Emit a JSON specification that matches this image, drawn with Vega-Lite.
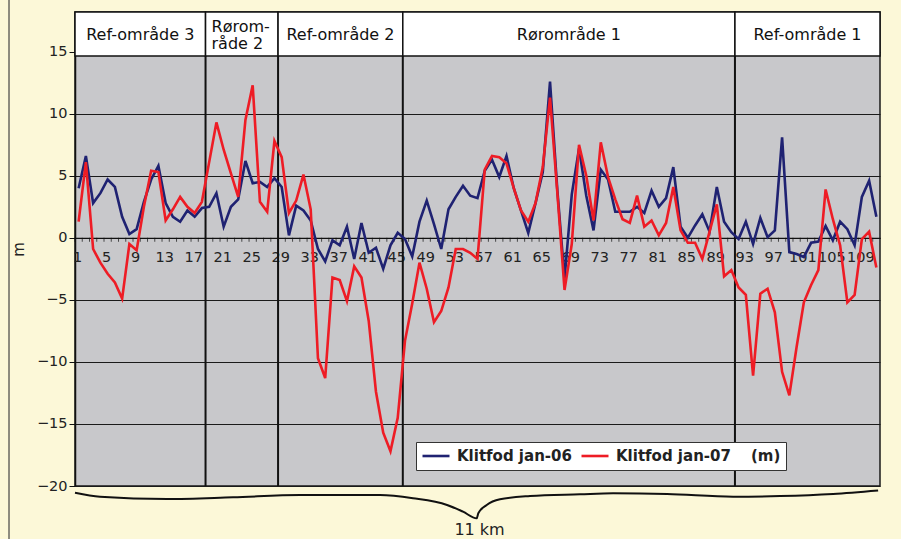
{
  "$schema": "https://vega.github.io/schema/vega-lite/v6.json",
  "autosize": "none",
  "width": 805,
  "height": 474,
  "padding": {"left": 75, "top": 12, "right": 21, "bottom": 53},
  "background": "#fcf8d8",
  "config": {
    "font": "DejaVu Sans",
    "view": {"fill": "#c8c8cb", "stroke": "#1a1a1a", "strokeWidth": 1.5},
    "axis": {"labelFont": "DejaVu Sans", "labelColor": "#222", "tickColor": "#111", "domainColor": "#111"}
  },
  "datasets": {
    "regions": [
      {"name": "Ref-område 3", "x0": 0.5, "x1": 18.5},
      {"name": "Rørom-\nråde 2", "x0": 18.5, "x1": 28.5},
      {"name": "Ref-område 2", "x0": 28.5, "x1": 45.7},
      {"name": "Rørområde 1", "x0": 45.7, "x1": 91.5},
      {"name": "Ref-område 1", "x0": 91.5, "x1": 111.5}
    ],
    "brace": [
      {"bx": 0.5, "by": -20.54}, {"bx": 3.95, "by": -20.86}, {"bx": 13.19, "by": -21.05},
      {"bx": 22.29, "by": -20.91}, {"bx": 31.53, "by": -20.73}, {"bx": 42.56, "by": -20.73},
      {"bx": 47.11, "by": -20.99}, {"bx": 51.8, "by": -21.53}, {"bx": 54.0, "by": -22.07},
      {"bx": 55.89, "by": -22.6}, {"bx": 56.11, "by": -22.2}, {"bx": 57.27, "by": -21.53},
      {"bx": 59.1, "by": -21.07}, {"bx": 63.24, "by": -20.81}, {"bx": 70.13, "by": -20.67},
      {"bx": 74.69, "by": -20.59}, {"bx": 82.13, "by": -20.64}, {"bx": 91.24, "by": -20.86},
      {"bx": 97.72, "by": -20.81}, {"bx": 105.03, "by": -20.64}, {"bx": 111.24, "by": -20.36}
    ],
    "series": [
      {"i":1,"a":4.0,"b":1.3},{"i":2,"a":6.6,"b":6.1},{"i":3,"a":2.8,"b":-0.9},{"i":4,"a":3.6,"b":-2.0},
      {"i":5,"a":4.7,"b":-2.9},{"i":6,"a":4.1,"b":-3.6},{"i":7,"a":1.7,"b":-4.9},{"i":8,"a":0.3,"b":-0.5},
      {"i":9,"a":0.7,"b":-1.0},{"i":10,"a":2.9,"b":2.5},{"i":11,"a":4.7,"b":5.4},{"i":12,"a":5.8,"b":5.3},
      {"i":13,"a":2.8,"b":1.4},{"i":14,"a":1.7,"b":2.3},{"i":15,"a":1.3,"b":3.3},{"i":16,"a":2.2,"b":2.5},
      {"i":17,"a":1.7,"b":2.0},{"i":18,"a":2.4,"b":2.9},{"i":19,"a":2.5,"b":6.1},{"i":20,"a":3.6,"b":9.3},
      {"i":21,"a":0.9,"b":7.1},{"i":22,"a":2.5,"b":5.2},{"i":23,"a":3.1,"b":3.3},{"i":24,"a":6.2,"b":9.5},
      {"i":25,"a":4.4,"b":12.3},{"i":26,"a":4.5,"b":2.9},{"i":27,"a":4.1,"b":2.1},{"i":28,"a":4.8,"b":7.8},
      {"i":29,"a":4.1,"b":6.5},{"i":30,"a":0.2,"b":2.0},{"i":31,"a":2.6,"b":3.0},{"i":32,"a":2.2,"b":5.1},
      {"i":33,"a":1.4,"b":2.3},{"i":34,"a":-0.9,"b":-9.7},{"i":35,"a":-1.9,"b":-11.3},{"i":36,"a":-0.2,"b":-3.2},
      {"i":37,"a":-0.6,"b":-3.4},{"i":38,"a":0.9,"b":-5.1},{"i":39,"a":-1.7,"b":-2.3},{"i":40,"a":1.2,"b":-3.2},
      {"i":41,"a":-1.2,"b":-6.7},{"i":42,"a":-0.8,"b":-12.4},{"i":43,"a":-2.5,"b":-15.7},{"i":44,"a":-0.6,"b":-17.2},
      {"i":45,"a":0.4,"b":-14.5},{"i":46,"a":-0.1,"b":-8.3},{"i":47,"a":-1.5,"b":-5.3},{"i":48,"a":1.3,"b":-2.0},
      {"i":49,"a":3.0,"b":-4.1},{"i":50,"a":1.1,"b":-6.8},{"i":51,"a":-0.9,"b":-5.9},{"i":52,"a":2.3,"b":-4.0},
      {"i":53,"a":3.3,"b":-0.9},{"i":54,"a":4.2,"b":-0.9},{"i":55,"a":3.4,"b":-1.2},{"i":56,"a":3.2,"b":-1.7},
      {"i":57,"a":5.4,"b":5.5},{"i":58,"a":6.3,"b":6.6},{"i":59,"a":4.9,"b":6.5},{"i":60,"a":6.6,"b":6.0},
      {"i":61,"a":4.0,"b":4.0},{"i":62,"a":2.2,"b":2.2},{"i":63,"a":0.4,"b":1.3},{"i":64,"a":2.8,"b":2.8},
      {"i":65,"a":5.3,"b":5.7},{"i":66,"a":12.6,"b":11.3},{"i":67,"a":3.9,"b":3.7},{"i":68,"a":-3.3,"b":-4.2},
      {"i":69,"a":3.5,"b":-0.5},{"i":70,"a":7.2,"b":7.5},{"i":71,"a":3.4,"b":5.0},{"i":72,"a":0.6,"b":1.4},
      {"i":73,"a":5.5,"b":7.7},{"i":74,"a":4.7,"b":4.9},{"i":75,"a":2.1,"b":3.1},{"i":76,"a":2.1,"b":1.5},
      {"i":77,"a":2.1,"b":1.2},{"i":78,"a":2.5,"b":3.4},{"i":79,"a":2.0,"b":0.9},{"i":80,"a":3.8,"b":1.4},
      {"i":81,"a":2.5,"b":0.2},{"i":82,"a":3.2,"b":1.2},{"i":83,"a":5.7,"b":4.1},{"i":84,"a":0.9,"b":0.6},
      {"i":85,"a":0.0,"b":-0.4},{"i":86,"a":1.0,"b":-0.4},{"i":87,"a":1.9,"b":-1.7},{"i":88,"a":0.5,"b":0.5},
      {"i":89,"a":4.1,"b":2.7},{"i":90,"a":1.3,"b":-3.1},{"i":91,"a":0.45,"b":-2.6},{"i":92,"a":-0.1,"b":-4.0},
      {"i":93,"a":1.3,"b":-4.6},{"i":94,"a":-0.5,"b":-11.1},{"i":95,"a":1.6,"b":-4.5},{"i":96,"a":0.05,"b":-4.1},
      {"i":97,"a":0.6,"b":-6.0},{"i":98,"a":8.1,"b":-10.8},{"i":99,"a":-1.15,"b":-12.7},{"i":100,"a":-1.3,"b":-8.8},
      {"i":101,"a":-1.55,"b":-5.2},{"i":102,"a":-0.4,"b":-3.8},{"i":103,"a":-0.3,"b":-2.6},{"i":104,"a":0.95,"b":3.9},
      {"i":105,"a":-0.2,"b":1.5},{"i":106,"a":1.3,"b":-0.6},{"i":107,"a":0.7,"b":-5.2},{"i":108,"a":-0.6,"b":-4.6},
      {"i":109,"a":3.3,"b":-0.1},{"i":110,"a":4.6,"b":0.5},{"i":111,"a":1.7,"b":-2.4}
    ]
  },
  "layer": [
    {
      "data": {"name": "series"},
      "mark": {"type": "tick", "orient": "vertical", "size": 4, "thickness": 1, "color": "#111", "yOffset": 2, "xOffset": -3.626},
      "encoding": {
        "x": {"field": "i", "type": "quantitative", "scale": {"domain": [0.5, 111.5], "nice": false, "zero": false}},
        "y": {"datum": 0, "type": "quantitative", "scale": {"domain": [-20, 18.2], "nice": false, "zero": false}}
      }
    },
    {
      "data": {"name": "series"},
      "transform": [{"filter": "(datum.i - 1) % 4 == 0"}],
      "mark": {"type": "text", "font": "DejaVu Sans", "fontSize": 14.5, "color": "#222", "align": "center", "baseline": "middle", "dy": 20, "dx": -1},
      "encoding": {
        "x": {"field": "i", "type": "quantitative", "scale": {"domain": [0.5, 111.5], "nice": false, "zero": false}},
        "y": {"datum": 0, "type": "quantitative", "scale": {"domain": [-20, 18.2], "nice": false, "zero": false}},
        "text": {"field": "i", "type": "quantitative"}
      }
    },
    {
      "data": {"values": [{"edge": "left"}]},
      "mark": {"type": "rule", "color": "#444", "strokeWidth": 1.2},
      "encoding": {
        "x": {"datum": -8.6, "type": "quantitative", "scale": {"domain": [0.5, 111.5], "nice": false, "zero": false}},
        "y": {"datum": 19.2, "type": "quantitative", "scale": {"domain": [-20, 18.2], "nice": false, "zero": false}},
        "y2": {"datum": -24.3}
      }
    },
    {
      "data": {"name": "regions"},
      "transform": [{"filter": "datum.x0 > 0.6"}],
      "mark": {"type": "rule", "color": "#111", "strokeWidth": 2},
      "encoding": {
        "x": {"field": "x0", "type": "quantitative", "scale": {"domain": [0.5, 111.5], "nice": false, "zero": false}},
        "y": {"datum": -20, "type": "quantitative", "scale": {"domain": [-20, 18.2], "nice": false, "zero": false}},
        "y2": {"datum": 18.2}
      }
    },
    {
      "data": {"name": "series"},
      "transform": [{"fold": ["a", "b"], "as": ["k", "v"]}],
      "mark": {"type": "line", "strokeWidth": 2.6, "strokeJoin": "miter"},
      "encoding": {
        "x": {"field": "i", "type": "quantitative",
          "scale": {"domain": [0.5, 111.5], "nice": false, "zero": false},
          "axis": {
            "orient": "bottom", "offset": -248.1, "title": null, "grid": false,
            "labels": false, "ticks": false, "domain": true, "domainWidth": 1.2
          }
        },
        "y": {"field": "v", "type": "quantitative",
          "scale": {"domain": [-20, 18.2], "nice": false, "zero": false},
          "axis": {
            "values": [-20, -15, -10, -5, 0, 5, 10, 15],
            "grid": true, "gridColor": "#1a1a1a", "gridWidth": 1.2, "gridOpacity": 1,
            "tickSize": 6, "labelPadding": 2, "labelFontSize": 14.5,
            "domain": true, "domainWidth": 1.5,
            "title": "m", "titleFont": "DejaVu Sans", "titleFontWeight": "normal", "titleFontSize": 15, "titleColor": "#222", "titlePadding": 10
          }
        },
        "color": {"field": "k", "type": "nominal",
          "scale": {"domain": ["a", "b"], "range": ["#1f2272", "#ee1c25"]},
          "legend": {
            "orient": "none", "legendX": 341, "legendY": 430, "direction": "horizontal",
            "labelExpr": "datum.label == 'a' ? 'Klitfod jan-06' : 'Klitfod jan-07'",
            "title": "(m)", "titleOrient": "right", "titleFontWeight": "bold", "titleFontSize": 15, "titleColor": "#222", "titlePadding": 20, "titleFont": "DejaVu Sans",
            "labelFont": "DejaVu Sans", "labelFontWeight": "bold", "labelFontSize": 15, "labelColor": "#222", "labelOffset": 6,
            "symbolType": "stroke", "symbolStrokeWidth": 2.6, "symbolSize": 729,
            "columnPadding": 8, "clipHeight": 18, "padding": 5,
            "fillColor": "white", "strokeColor": "#333"
          }
        }
      }
    },
    {
      "data": {"name": "regions"},
      "mark": {"type": "rect", "fill": "white", "stroke": "#111", "strokeWidth": 1.5},
      "encoding": {
        "x": {"field": "x0", "type": "quantitative", "scale": {"domain": [0.5, 111.5], "nice": false, "zero": false}},
        "x2": {"field": "x1"},
        "y": {"datum": 14.65, "type": "quantitative", "scale": {"domain": [-20, 18.2], "nice": false, "zero": false}},
        "y2": {"datum": 18.2}
      }
    },
    {
      "data": {"name": "regions"},
      "transform": [{"filter": "indexof(datum.name, '\\n') < 0"}, {"calculate": "(datum.x0 + datum.x1) / 2", "as": "xm"}],
      "mark": {"type": "text", "font": "DejaVu Sans", "fontSize": 16, "color": "#111", "align": "center", "baseline": "middle"},
      "encoding": {
        "x": {"field": "xm", "type": "quantitative", "scale": {"domain": [0.5, 111.5], "nice": false, "zero": false}},
        "y": {"datum": 16.35, "type": "quantitative", "scale": {"domain": [-20, 18.2], "nice": false, "zero": false}},
        "text": {"field": "name"}
      }
    },
    {
      "data": {"name": "regions"},
      "transform": [{"filter": "indexof(datum.name, '\\n') >= 0"}],
      "mark": {"type": "text", "font": "DejaVu Sans", "fontSize": 16, "color": "#111", "align": "left", "baseline": "middle", "lineBreak": "\n", "lineHeight": 17.5, "dx": 6, "dy": -8},
      "encoding": {
        "x": {"field": "x0", "type": "quantitative", "scale": {"domain": [0.5, 111.5], "nice": false, "zero": false}},
        "y": {"datum": 16.35, "type": "quantitative", "scale": {"domain": [-20, 18.2], "nice": false, "zero": false}},
        "text": {"field": "name"}
      }
    },
    {
      "data": {"name": "brace"},
      "mark": {"type": "line", "color": "#111", "strokeWidth": 2, "interpolate": "monotone", "clip": false},
      "encoding": {
        "x": {"field": "bx", "type": "quantitative", "scale": {"domain": [0.5, 111.5], "nice": false, "zero": false}},
        "y": {"field": "by", "type": "quantitative", "scale": {"domain": [-20, 18.2], "nice": false, "zero": false}}
      }
    },
    {
      "data": {"values": [{"label": "11 km", "lx": 56.28, "ly": -23.55}]},
      "mark": {"type": "text", "font": "DejaVu Sans", "fontSize": 16, "color": "#222", "align": "center", "baseline": "middle"},
      "encoding": {
        "x": {"field": "lx", "type": "quantitative", "scale": {"domain": [0.5, 111.5], "nice": false, "zero": false}},
        "y": {"field": "ly", "type": "quantitative", "scale": {"domain": [-20, 18.2], "nice": false, "zero": false}},
        "text": {"field": "label"}
      }
    }
  ]
}
